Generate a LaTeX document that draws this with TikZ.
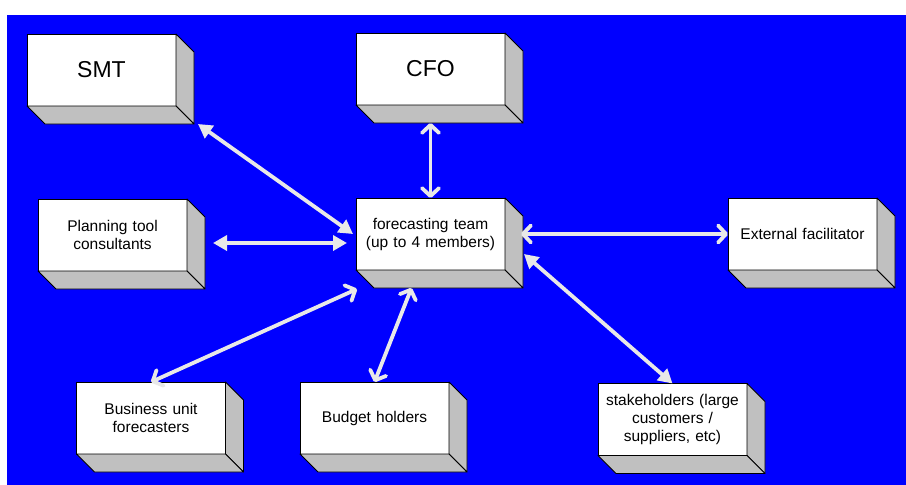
\documentclass[tikz,border=0pt]{standalone}
\usepackage{fontspec}
\setmainfont{Liberation Sans}
\usetikzlibrary{positioning,arrows.meta}
\definecolor{bgblue}{RGB}{0,0,255}
\definecolor{sidegray}{RGB}{192,192,192}
\definecolor{linkgray}{RGB}{232,232,232}

\begin{document}
\begin{tikzpicture}[x=1pt, y=-1pt, font=\fontsize{15.5}{18}\selectfont,
	box/.style={draw, fill=white, line width=0.8pt, outer sep=0pt, inner sep=0pt, minimum width=149pt, minimum height=72pt, text width=140pt, align=center},
	big/.style={box, font=\fontsize{23}{26}\selectfont},
	side/.style={draw, fill=sidegray, line width=0.8pt, line join=round},
	link/.style={line width=3.8pt, color=linkgray},
	barb/.style={link, {Straight Barb[length=8pt,width=17pt,round]}-{Straight Barb[length=8pt,width=17pt,round]}},
	tri/.style={link, {Triangle[length=14pt,width=15pt]}-{Triangle[length=14pt,width=15pt]}}]
	\useasboundingbox (0,0) rectangle (906,485);
	\fill[bgblue] (7,15) rectangle (906,485);
	%centre
	\node(team)[box] at (430.5,234) {forecasting team\\(up to 4 members)};
	\node(cfo)[big, above=93pt of team] {CFO};
	\node(ext)[box, right=223pt of team] {External facilitator};
	%left
	\node(smt)[big] at (101.5,70) {SMT};
	\node(plan)[box] at (112.5,235) {Planning tool\\consultants};
	%bottom row
	\node(bus)[box] at (151,418) {Business unit\\forecasters};
	\node(bud)[box] at (374.5,418) {Budget holders};
	\node(stake)[box] at (672.5,419.5) {stakeholders (large\\customers /\\suppliers, etc)};
	%3d sides
	\foreach \b in {smt,cfo,plan,team,ext,bus,bud,stake}{
		\draw[side] (\b.north east) -- ++(18,18) -- ([shift={(18,18)}]\b.south east) -- (\b.south east) -- cycle;
		\draw[side] (\b.south west) -- ++(18,18) -- ([shift={(18,18)}]\b.south east) -- (\b.south east) -- cycle;
	}
	%links
	\draw[tri] ([shift={(22,18)}]smt.south east) -- ([shift={(-3,0)}]team.west);
	\draw[barb] ([shift={(0,18)}]cfo.south) -- (team.north);
	\draw[tri] ([shift={(26,8)}]plan.east) -- ([shift={(-9,9)}]team.west);
	\draw[barb] ([shift={(16,0)}]team.east) -- (ext.west);
	\draw[tri] ([shift={(19,20)}]team.east) -- (stake.north);
	\draw[barb] (bud.north) -- ([shift={(-19,18)}]team.south);
	\draw[barb] (bus.north) -- ([shift={(1,19)}]team.south west);
\end{tikzpicture}
\end{document}
